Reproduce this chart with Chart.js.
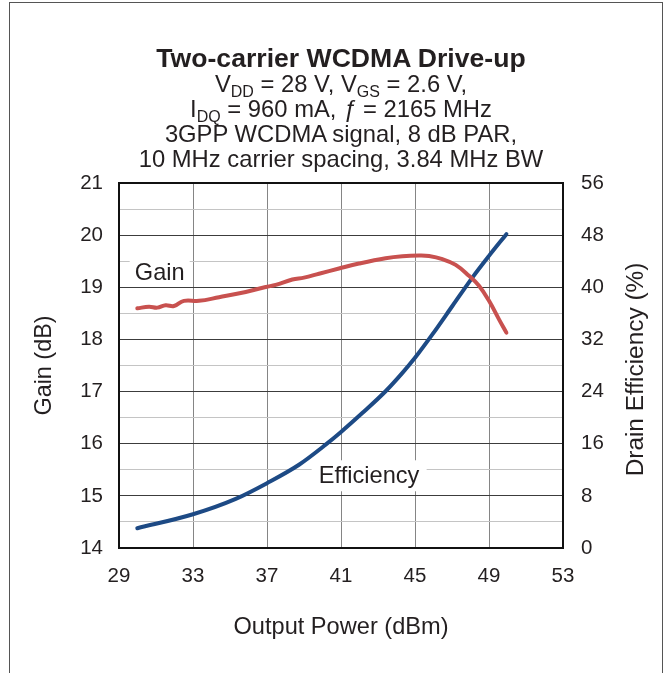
<!DOCTYPE html>
<html><head><meta charset="utf-8">
<script src="https://cdn.jsdelivr.net/npm/chart.js@4.4.0/dist/chart.umd.min.js"></script>
<style>
html,body{margin:0;padding:0;background:#fff;width:666px;height:673px;overflow:hidden;font-family:"Liberation Sans",Arial,sans-serif;color:#231f20}
#frame{position:absolute;left:9px;top:2px;width:654px;height:700px;border:1.5px solid #555;border-bottom:none;box-sizing:border-box}
#title{position:absolute;left:41px;width:600px;top:46px;text-align:center;font-size:23.8px;line-height:25px;white-space:nowrap}
#title .main{font-weight:bold;font-size:26.6px}
#title .sub{font-size:16px;position:relative;top:5px;line-height:0}
canvas{position:absolute;left:0;top:0}
</style>
</head><body>
<div id="frame"></div>
<canvas id="c" width="666" height="673"></canvas>
<div id="title">
<div class="main">Two-carrier WCDMA Drive-up</div>
<div>V<span class="sub">DD</span> = 28 V, V<span class="sub">GS</span> = 2.6 V,</div>
<div>I<span class="sub">DQ</span> = 960 mA, <i>ƒ</i> = 2165 MHz</div>
<div>3GPP WCDMA signal, 8 dB PAR,</div>
<div>10 MHz carrier spacing, 3.84 MHz BW</div>
</div>
<script>
// ---- data ----
const powerGain = [29.99, 30.62, 31.07, 31.52, 31.97, 32.51, 33.32, 34.41, 35.85, 36.93, 37.47, 38.37, 39.0, 39.81, 40.89, 41.97, 43.41, 44.32, 45.22, 45.76, 46.48, 47.2, 47.92, 48.46, 49.0, 49.54, 49.94];
const gainDb    = [18.596, 18.628, 18.61, 18.654, 18.64, 18.74, 18.74, 18.81, 18.91, 19.006, 19.045, 19.15, 19.186, 19.26, 19.36, 19.455, 19.558, 19.596, 19.609, 19.6, 19.54, 19.43, 19.22, 19.03, 18.74, 18.385, 18.13];
const powerEff  = [29.99, 33.0, 35.31, 37.0, 38.73, 40.17, 41.0, 42.15, 43.41, 44.32, 45.0, 45.94, 47.02, 48.1, 49.0, 49.94];
const effPct    = [3.03, 5.18, 7.54, 9.95, 12.77, 15.85, 17.8, 20.7, 24.05, 26.87, 29.18, 32.77, 37.13, 41.49, 44.82, 48.15];
const xTickValues    = [29, 33, 37, 41, 45, 49, 53];
const gainTickValues = [14, 14.5, 15, 15.5, 16, 16.5, 17, 17.5, 18, 18.5, 19, 19.5, 20, 20.5, 21];
const effTickValues  = [0, 8, 16, 24, 32, 40, 48, 56];

const FONT = '"Liberation Sans", Arial, sans-serif';
const TXT = '#231f20';
Chart.defaults.font.family = FONT;
Chart.defaults.font.size = 20.5;
Chart.defaults.color = TXT;

const labels = [
  {text: 'Gain', x: 31.2, y: 19.29, w: 60, h: 25},
  {text: 'Efficiency', x: 42.52, y: 15.385, w: 115, h: 31}
];

const annotPlugin = {
  id: 'annot',
  beforeDatasetsDraw(chart) {
    const ctx = chart.ctx, xs = chart.scales.x, ys = chart.scales.y;
    ctx.save();
    ctx.font = '23.6px ' + FONT;
    ctx.textAlign = 'center';
    ctx.textBaseline = 'middle';
    labels.forEach(l => {
      const px = xs.getPixelForValue(l.x), py = ys.getPixelForValue(l.y);
      ctx.fillStyle = '#fff';
      ctx.fillRect(px - l.w / 2, py - l.h / 2, l.w, l.h);
      ctx.fillStyle = TXT;
      ctx.fillText(l.text, px, py + 1);
    });
    ctx.restore();
  },
  afterDraw(chart) {
    const ctx = chart.ctx, ys = chart.scales.y2;
    ctx.save();
    ctx.font = '24.4px ' + FONT;
    ctx.fillStyle = TXT;
    ctx.textAlign = 'center';
    ctx.textBaseline = 'middle';
    ctx.translate(ys.right - 30, (ys.top + ys.bottom) / 2 + 4);
    ctx.rotate(-Math.PI / 2);
    ctx.fillText('Drain Efficiency (%)', 0, 0);
    ctx.restore();
  }
};

new Chart(document.getElementById('c'), {
  type: 'line',
  data: {
    datasets: [
      {label: 'Gain', data: powerGain.map((p, i) => ({x: p, y: gainDb[i]})), yAxisID: 'y',
       borderColor: '#c8514f', borderWidth: 4, pointRadius: 0, tension: 0.4, borderCapStyle: 'round', borderJoinStyle: 'round'},
      {label: 'Efficiency', data: powerEff.map((p, i) => ({x: p, y: effPct[i]})), yAxisID: 'y2',
       borderColor: '#1d4a85', borderWidth: 4, pointRadius: 0, cubicInterpolationMode: 'monotone', borderCapStyle: 'round', borderJoinStyle: 'round'}
    ]
  },
  options: {
    responsive: false, animation: false,
    layout: {padding: {top: 183, left: 0, right: 0, bottom: 0}},
    plugins: {legend: {display: false}, tooltip: {enabled: false}},
    scales: {
      x: {
        type: 'linear', position: 'bottom', min: 29, max: 53,
        afterBuildTicks: s => { s.ticks = xTickValues.map(v => ({value: v})); },
        afterFit: s => { s.height = 125; },
        ticks: {padding: 16, callback: v => String(v), maxRotation: 0, autoSkip: false},
        grid: {color: '#858585', lineWidth: 1, drawTicks: false},
        border: {color: '#111', width: 2},
        title: {display: true, text: 'Output Power (dBm)', font: {size: 23.6}, padding: {top: 0, bottom: 31}}
      },
      y: {
        type: 'linear', position: 'left', min: 14, max: 21,
        afterBuildTicks: s => { s.ticks = gainTickValues.map(v => ({value: v})); },
        afterFit: s => { s.width = 119; },
        ticks: {padding: 16, autoSkip: false, callback: v => Number.isInteger(v) ? String(v) : ''},
        grid: {
          drawTicks: false,
          color: c => c.tick && c.tick.value === 21 ? '#111' : (Number.isInteger(c.tick.value) ? '#3c3c3c' : '#c4c4c4'),
          lineWidth: c => c.tick && c.tick.value === 21 ? 2 : 1
        },
        border: {color: '#111', width: 2},
        title: {display: true, text: 'Gain (dB)', font: {size: 23.4}, padding: {top: 31, bottom: 0}}
      },
      y2: {
        type: 'linear', position: 'right', min: 0, max: 56,
        afterBuildTicks: s => { s.ticks = effTickValues.map(v => ({value: v})); },
        afterFit: s => { s.width = 103; },
        ticks: {padding: 18, autoSkip: false, callback: v => String(v)},
        grid: {display: false, drawTicks: false},
        border: {color: '#111', width: 2}
      }
    }
  },
  plugins: [annotPlugin]
});
</script>
</body></html>
